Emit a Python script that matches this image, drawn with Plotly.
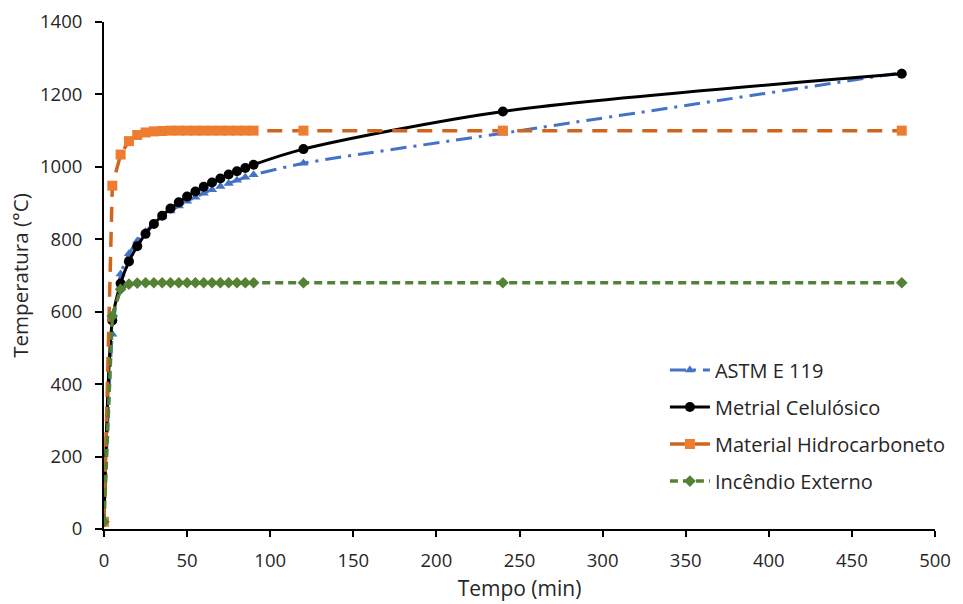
import plotly.graph_objects as go

tempo = [0, 5, 10, 15, 20, 25, 30, 35, 40, 45, 50, 55, 60, 65, 70, 75, 80, 85, 90, 120, 240, 480]

astm_e119 = [20, 538, 704, 760, 795, 821, 843, 862, 878, 892, 905, 916, 927, 937, 946, 954, 963, 971, 978, 1010, 1093, 1260]
celulosico = [20, 576, 678, 739, 781, 815, 842, 865, 885, 902, 918, 932, 945, 957, 968, 979, 988, 997, 1006, 1049, 1153, 1257]
hidrocarboneto = [20, 948, 1034, 1071, 1088, 1095, 1098, 1099, 1100, 1100, 1100, 1100, 1100, 1100, 1100, 1100, 1100, 1100, 1100, 1100, 1100, 1100]
externo = [20, 588, 662, 676, 679, 680, 680, 680, 680, 680, 680, 680, 680, 680, 680, 680, 680, 680, 680, 680, 680, 680]

names = ["ASTM E 119", "Metrial Celulósico", "Material Hidrocarboneto", "Incêndio Externo"]

FONT = "'Open Sans', sans-serif"
TXT = "#262626"
fig = go.Figure()

fig.add_trace(go.Scatter(
    x=tempo, y=astm_e119, name=names[0], mode="lines+markers",
    line=dict(color="#4472C4", width=3, dash="16px,7px,3px,7px", shape="spline", smoothing=0.6),
    marker=dict(symbol="triangle-up", size=9, color="#4472C4"),
    legendgroup="a"))
fig.add_trace(go.Scatter(
    x=tempo, y=celulosico, name=names[1], mode="lines+markers",
    line=dict(color="#000000", width=3, shape="spline", smoothing=0.8),
    marker=dict(symbol="circle", size=10, color="#000000"),
    legendgroup="b"))
fig.add_trace(go.Scatter(
    x=tempo, y=hidrocarboneto, name=names[2], mode="lines+markers",
    line=dict(color="#D0661E", width=3.5, dash="15px,10px"),
    marker=dict(symbol="square", size=10, color="#ED7D31"),
    legendgroup="c"))
fig.add_trace(go.Scatter(
    x=tempo, y=externo, name=names[3], mode="lines+markers",
    line=dict(color="#548235", width=3.5, dash="8px,5px"),
    marker=dict(symbol="diamond", size=9, color="#548235"),
    legendgroup="d"))

fig.update_layout(
    width=963, height=604,
    margin=dict(l=104, r=21, t=22, b=75),
    paper_bgcolor="white", plot_bgcolor="white",
    font=dict(family=FONT, size=19, color=TXT),
    showlegend=True,
    legend=dict(x=0.675, y=0.352, xanchor="left", yanchor="top",
                bgcolor="rgba(0,0,0,0)", font=dict(size=20, color=TXT),
                tracegroupgap=8, itemwidth=40),
    xaxis=dict(range=[0, 500], tickvals=list(range(0, 501, 50)),
               automargin=False,
               showgrid=False, zeroline=False, showline=True,
               linecolor="#000000", linewidth=2, ticks="outside",
               ticklen=6, tickcolor="#000000", tickwidth=1.5,
               ticklabelstandoff=8,
               title=dict(text="Tempo (min)", standoff=10, font=dict(size=21)),
               tickfont=dict(size=18.5)),
    yaxis=dict(range=[0, 1400], tickvals=list(range(0, 1401, 200)),
               automargin=False,
               showgrid=False, zeroline=False, showline=True,
               linecolor="#000000", linewidth=2, ticks="outside",
               ticklen=7, tickcolor="#000000", tickwidth=1.5,
               ticklabelstandoff=9,
               title=dict(text="Temperatura (°C)", standoff=6, font=dict(size=20.5)),
               tickfont=dict(size=18.5)),
)

fig.write_html("out.html")
